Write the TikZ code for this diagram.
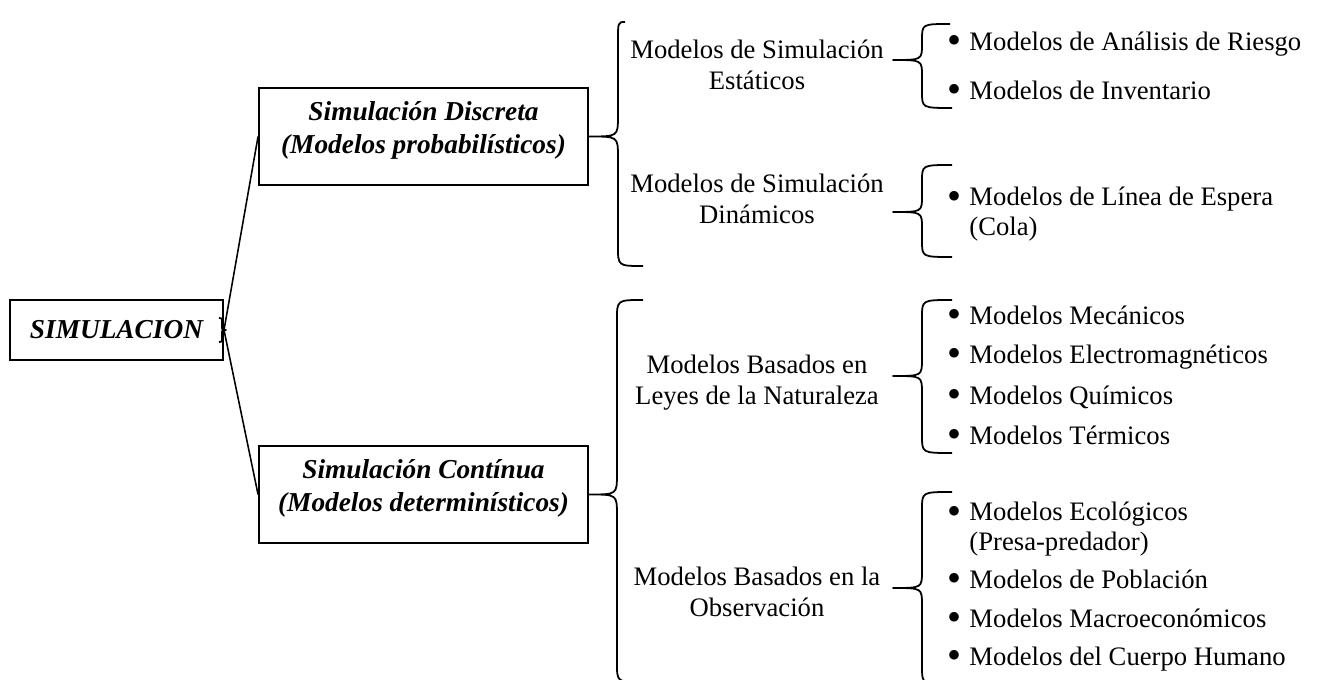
\documentclass[tikz,border=0pt]{standalone}
\usepackage{fontspec}
\setmainfont{Liberation Serif}
\usetikzlibrary{calc}

\tikzset{
	caja/.style={draw, line width=0.9pt, inner sep=0pt, align=center, minimum width=148pt, minimum height=43.65pt, font=\fontsize{12.3}{15}\selectfont\bfseries\itshape},
	rama/.style={align=center, inner sep=0pt, font=\fontsize{12}{14}\selectfont},
	hoja/.style={anchor=west, align=left, inner sep=0pt, font=\fontsize{12}{13.5}\selectfont},
	llave/.style={line width=0.8pt, line join=round},
	enlace/.style={line width=0.7pt}
}

% llave: punta, extremo superior, extremo inferior, ancho, curva
\newcommand{\llavew}[5]{%
	\coordinate (v) at ($(#1)+(#4,0)$);
	\draw[llave] (#2) .. controls (#2 -| v) .. ($(#2 -| v)+(0,#5)$) -- ($(v)+(0,-#5)$) .. controls (v) .. (#1)
		.. controls (v) .. ($(v)+(0,#5)$) -- ($(#3 -| v)+(0,-#5)$) .. controls (#3 -| v) .. (#3);
}
\newcommand{\punto}{\llap{\raisebox{-1.5pt}{\fontsize{18}{18}\selectfont\textbullet}\hspace{3.5pt}}}

\begin{document}
\begin{tikzpicture}[x=0.45pt,y=-0.45pt]
	\useasboundingbox (0,0) rectangle (1317,680);

	\node[caja, minimum width=95.85pt, minimum height=27pt] (sim) at (116.5,330) {SIMULACION};
	\node[caja] (disc) at (423.5,136.5) {Simulación Discreta\\(Modelos probabilísticos)\\[-7pt]\mbox{}};
	\node[caja] (cont) at (423.5,494.5) {Simulación Contínua\\(Modelos determinísticos)\\[-7pt]\mbox{}};

	\coordinate (s0) at (226,330);
	\coordinate (s1) at (219,318);
	\coordinate (s2) at (219,342);
	\llavew{s0}{s1}{s2}{-4}{4}
	\draw[enlace] (sim.east) -- (disc.west);
	\draw[enlace] (sim.east) -- (cont.west);

	\node[rama] (est) at (757,64.5) {Modelos de Simulación\\Estáticos};
	\node[rama] (din) at (757,199) {Modelos de Simulación\\Dinámicos};
	\node[rama] (ley) at (757,383) {Modelos Basados en\\Leyes de la Naturaleza};
	\node[rama] (obs) at (757,592) {Modelos Basados en la\\Observación};

	\coordinate (b1a) at (625,22);
	\coordinate (b1b) at (643,266);
	\llavew{disc.east}{b1a}{b1b}{29}{20}
	\coordinate (b2a) at (643,300);
	\coordinate (b2b) at (640,682);
	\llavew{cont.east}{b2a}{b2b}{28}{20}

	% llaves pequenas
	\coordinate (t3) at (893,60);
	\coordinate (b3a) at (950,24);
	\coordinate (b3b) at (952,108);
	\llavew{t3}{b3a}{b3b}{29}{16}
	\coordinate (t4) at (893,212);
	\coordinate (b4a) at (952,165);
	\coordinate (b4b) at (952,257);
	\llavew{t4}{b4a}{b4b}{29}{16}
	\coordinate (t5) at (893,376);
	\coordinate (b5a) at (952,300);
	\coordinate (b5b) at (952,453);
	\llavew{t5}{b5a}{b5b}{29}{17}
	\coordinate (t6) at (893,588);
	\coordinate (b6a) at (952,492);
	\coordinate (b6b) at (950,684);
	\llavew{t6}{b6a}{b6b}{29}{17}

	\node[hoja] (h1) at (969,44) {\punto Modelos de Análisis de Riesgo};
	\node[hoja] (h2) at (969,92) {\punto Modelos de Inventario};
	\node[hoja] (h3) at (969,214.5) {\punto Modelos de Línea de Espera\\(Cola)};
	\node[hoja] (h4) at (969,317) {\punto Modelos Mecánicos};
	\node[hoja] (h5) at (969,357) {\punto Modelos Electromagnéticos};
	\node[hoja] (h6) at (969,397) {\punto Modelos Químicos};
	\node[hoja] (h7) at (969,437) {\punto Modelos Térmicos};
	\node[hoja] (h8) at (969,529.5) {\punto Modelos Ecológicos\\(Presa-predador)};
	\node[hoja] (h9) at (969,581) {\punto Modelos de Población};
	\node[hoja] (h10) at (969,620) {\punto Modelos Macroeconómicos};
	\node[hoja] (h11) at (969,659) {\punto Modelos del Cuerpo Humano};
\end{tikzpicture}
\end{document}
